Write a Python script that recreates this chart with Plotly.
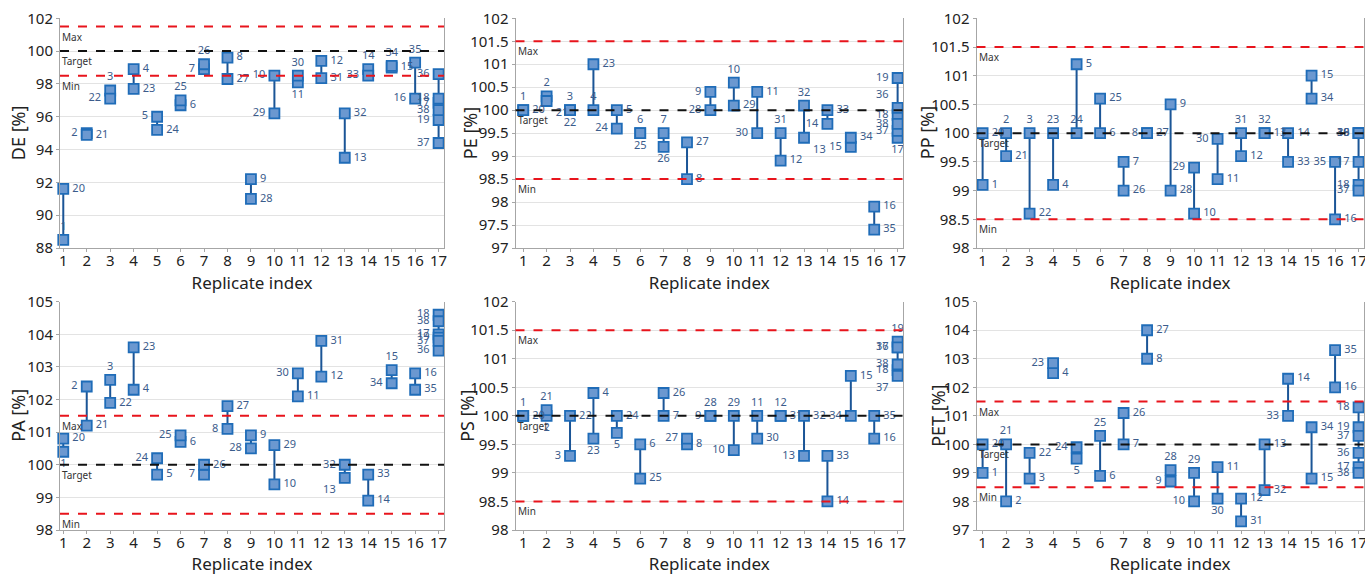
import plotly.graph_objects as go

# ---------------- data ----------------
POINT_ID = list(range(1, 39))
REPLICATE = list(range(1, 17)) + [17, 17, 17] + list(range(1, 17)) + [17, 17, 17]
REPLICATE_TICKS = list(range(1, 18))

DE = [88.5, 95.0, 97.6, 98.9, 96.0, 96.7, 98.9, 99.6, 92.2, 98.5, 98.1, 99.4, 93.5, 98.9, 99.0, 97.1, 96.85, 97.1, 95.8,
      91.6, 94.9, 97.1, 97.7, 95.2, 97.0, 99.2, 98.3, 91.0, 96.2, 98.5, 98.35, 96.2, 98.5, 99.1, 99.3, 98.6, 94.4, 96.4]
PE = [100.0, 100.3, 100.0, 100.0, 100.0, 99.5, 99.5, 98.5, 100.4, 100.6, 100.4, 98.9, 99.4, 99.7, 99.2, 97.9, 99.4, 99.9, 100.7,
      100.0, 100.2, 100.0, 101.0, 99.6, 99.5, 99.2, 99.3, 100.0, 100.1, 99.5, 99.5, 100.1, 100.0, 99.4, 97.4, 100.05, 99.55, 99.7]
PP = [99.1, 100.0, 100.0, 99.1, 101.2, 100.0, 99.5, 100.0, 100.5, 98.6, 99.2, 99.6, 100.0, 100.0, 101.0, 98.5, 99.5, 99.1, 100.0,
      100.0, 99.6, 98.6, 100.0, 100.0, 100.6, 99.0, 100.0, 99.0, 99.4, 99.9, 100.0, 100.0, 99.5, 100.6, 99.5, 100.0, 99.0, 100.0]
PA = [100.4, 102.4, 102.6, 102.3, 99.7, 100.7, 99.7, 101.1, 100.9, 99.4, 102.1, 102.7, 99.6, 98.9, 102.9, 102.8, 104.0, 104.6, 103.9,
      100.8, 101.2, 101.9, 103.6, 100.2, 100.9, 100.0, 101.8, 100.5, 100.6, 102.8, 103.8, 100.0, 99.7, 102.5, 102.3, 103.5, 103.8, 104.4]
PS = [100.0, 100.0, 99.3, 100.4, 99.7, 99.5, 100.0, 99.5, 100.0, 99.4, 100.0, 100.0, 99.3, 98.5, 100.7, 99.6, 101.2, 100.8, 101.3,
      100.0, 100.1, 100.0, 99.6, 100.0, 98.9, 100.4, 99.6, 100.0, 100.0, 99.6, 100.0, 100.0, 99.3, 100.0, 100.0, 101.2, 100.7, 100.9]
PET = [99.0, 98.0, 98.8, 102.5, 99.5, 98.9, 100.0, 103.0, 98.7, 98.0, 99.2, 98.1, 100.0, 102.3, 98.8, 102.0, 99.2, 101.3, 100.6,
       100.0, 100.0, 99.7, 102.85, 99.9, 100.3, 101.1, 104.0, 99.1, 99.0, 98.1, 97.3, 98.4, 101.0, 100.6, 103.3, 99.7, 100.3, 99.0]

DE_TICKS = [88, 90, 92, 94, 96, 98, 100, 102]
PE_TICKS = [97, 97.5, 98, 98.5, 99, 99.5, 100, 100.5, 101, 101.5, 102]
PP_TICKS = [98, 98.5, 99, 99.5, 100, 100.5, 101, 101.5, 102]
PA_TICKS = [98, 99, 100, 101, 102, 103, 104, 105]
PS_TICKS = [98, 98.5, 99, 99.5, 100, 100.5, 101, 101.5, 102]
PET_TICKS = [97, 98, 99, 100, 101, 102, 103, 104, 105]

LIMIT_MAX = 101.5
LIMIT_TARGET = 100.0
LIMIT_MIN = 98.5
LIMIT_LABELS = ["Max", "Target", "Min"]

# ---------------- style: label placement per point ----------------
P = {"R": "middle right", "L": "middle left", "T": "top center", "B": "bottom center",
     "BR": "bottom right", "BL": "bottom left", "TL": "top left"}
POS_DE = "T L T R L R L R R L B R R T R L L L L R R L R R T T R R L T R R L T T L L L".split()
POS_PE = "T T T T R T T R L T R R BR L L R B L L R BR B R L B B R L R L T T R R R TL L L".split()
POS_PP = "R T T R R R R L R R R R R R R R L L L R R R T T R R R R L L T T R R L L L L".split()
POS_PA = "B L T R R R L L R R R R BL R T R L L L R R R R L L R R L R L R L R L R L L L".split()
POS_PS = "T B L R B R R R L L T T L R R R L L T R T R B R R R L T T R R R R L R L BL L".split()
POS_PET = "R R R R B R R R L L R R R R R R L L L R T R L L T R R T T B R R L R R L L L".split()

panels = [
    ("DE", DE, DE_TICKS, POS_DE),
    ("PE", PE, PE_TICKS, POS_PE),
    ("PP", PP, PP_TICKS, POS_PP),
    ("PA", PA, PA_TICKS, POS_PA),
    ("PS", PS, PS_TICKS, POS_PS),
    ("PET", PET, PET_TICKS, POS_PET),
]

W, H = 1365, 575
col_px = [(60, 444), (515.5, 903), (976.5, 1363.5)]
col_xrange = [(0.86, 17.23), (0.67, 17.23), (0.74, 17.21)]
row_px = [(18.3, 248.0), (301.7, 530.0)]
ytitle_x = [18, 470, 927, 18, 467, 938]

FONT = "Noto Sans"
LABEL_COLOR = "#3b5c8c"
LINE_COLOR = "#1b5596"
FILL = "#6b98d0"
EDGE = "#1f6cb8"
GRID = "#e3e3e3"
AXLINE = "#a6a6a6"


def padded(label, code):
    # small visual gap between marker and side labels
    if code in ("R", "BR"):
        return "\u2009" + label
    if code in ("L", "BL", "TL"):
        return label + "\u2009"
    return label


fig = go.Figure()
layout = dict(
    width=W, height=H, margin=dict(l=0, r=0, t=0, b=0, autoexpand=False),
    paper_bgcolor="white", plot_bgcolor="white", showlegend=False,
    font=dict(family=FONT, color="#222222"),
)
shapes, annotations = [], []

for i, (name, vals, ticks, pos) in enumerate(panels):
    r, c = divmod(i, 3)
    ax = "" if i == 0 else str(i + 1)
    xa, ya = "x" + ax, "y" + ax
    x0, x1 = col_px[c]
    y0, y1 = row_px[r]
    layout["xaxis" + ax] = dict(
        domain=[x0 / W, x1 / W], range=list(col_xrange[c]), anchor=ya, automargin=False,
        tickmode="array", tickvals=REPLICATE_TICKS, ticktext=[str(t) for t in REPLICATE_TICKS],
        showgrid=False, zeroline=False, showline=True, linecolor=AXLINE, linewidth=1,
        ticks="outside", ticklen=3, tickcolor=AXLINE, tickfont=dict(size=15, color="#222"),
        ticklabeloverflow="allow", ticklabelstandoff=-4,
        title=dict(text="Replicate index", font=dict(size=17, color="#222"), standoff=8),
    )
    layout["yaxis" + ax] = dict(
        domain=[1 - y1 / H, 1 - y0 / H], range=[ticks[0], ticks[-1]], anchor=xa, automargin=False,
        tickmode="array", tickvals=ticks, showgrid=True, gridcolor=GRID, gridwidth=1,
        zeroline=False, showline=True, mirror=True, linecolor=AXLINE, linewidth=1,
        ticks="outside", ticklen=3, tickcolor=AXLINE, tickfont=dict(size=15, color="#222"),
        ticklabeloverflow="allow",
    )
    annotations.append(dict(xref="paper", yref=ya + " domain", x=ytitle_x[i] / W, y=0.5,
                            text=f"{name} [%]", textangle=-90, showarrow=False,
                            xanchor="center", yanchor="middle",
                            font=dict(size=18, color="#222", family=FONT)))

    # vertical connectors per replicate
    lx, ly = [], []
    for rep in REPLICATE_TICKS:
        v = [vals[k] for k in range(len(vals)) if REPLICATE[k] == rep]
        lx += [rep, rep, None]
        ly += [min(v), max(v), None]

    # reference lines
    for val, col in [(LIMIT_MAX, "#e8141c"), (LIMIT_MIN, "#e8141c"), (LIMIT_TARGET, "#111111")]:
        shapes.append(dict(type="line", xref=xa + " domain", yref=ya, x0=0, x1=1, y0=val, y1=val,
                           line=dict(color=col, width=2, dash="dash"), layer="above"))
    for val, lab in zip([LIMIT_MAX, LIMIT_TARGET, LIMIT_MIN], LIMIT_LABELS):
        annotations.append(dict(xref=xa + " domain", yref=ya, x=0.0, y=val, text=lab, showarrow=False,
                                xanchor="left", yanchor="top", xshift=0, yshift=-1,
                                font=dict(size=10, color="#333333", family=FONT)))

    fig.add_trace(go.Scatter(x=lx, y=ly, mode="lines", xaxis=xa, yaxis=ya,
                             line=dict(color=LINE_COLOR, width=2), hoverinfo="skip"))
    fig.add_trace(go.Scatter(
        x=REPLICATE, y=vals, mode="markers+text", xaxis=xa, yaxis=ya,
        text=[padded(str(p), q) for p, q in zip(POINT_ID, pos)], textposition=[P[q] for q in pos],
        textfont=dict(size=11, color=LABEL_COLOR, family=FONT),
        marker=dict(symbol="square", size=10, color=FILL, line=dict(color=EDGE, width=1.8)),
        cliponaxis=False,
    ))

layout["shapes"] = shapes
layout["annotations"] = annotations
fig.update_layout(**layout)
fig.write_html("out.html")
